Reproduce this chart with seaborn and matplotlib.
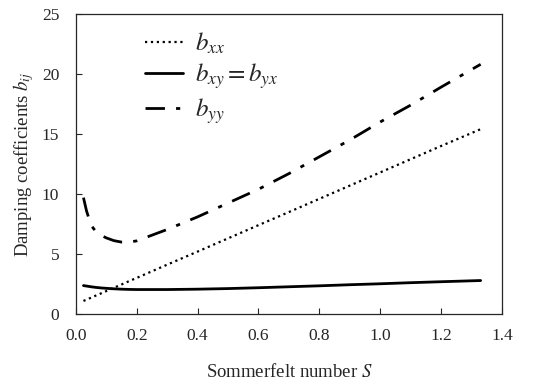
import matplotlib
matplotlib.use("Agg")
import matplotlib.pyplot as plt
import numpy as np
import pandas as pd
import seaborn as sns

# values
S = [0.025, 0.035, 0.05, 0.065, 0.08, 0.1, 0.125, 0.15, 0.175, 0.2, 0.3, 0.4, 0.5, 0.6,
     0.7, 0.8, 0.9, 1.0, 1.1, 1.2, 1.33]
b_xx = [1.1, 1.21, 1.37, 1.54, 1.7, 1.92, 2.2, 2.47, 2.75, 3.02, 4.12, 5.21, 6.31, 7.41,
        8.5, 9.6, 10.7, 11.8, 12.9, 14.0, 15.4]
b_xy = [2.38, 2.34, 2.28, 2.23, 2.19, 2.15, 2.11, 2.08, 2.06, 2.05, 2.05, 2.08, 2.13, 2.2,
        2.28, 2.36, 2.45, 2.53, 2.62, 2.7, 2.8]
b_yy = [9.7, 8.6, 7.4, 6.9, 6.6, 6.35, 6.12, 6.0, 6.0, 6.1, 7.05, 8.1, 9.25, 10.4,
        11.7, 13.1, 14.5, 16.0, 17.4, 18.9, 20.8]

labels = [r"$b_{xx}$", r"$b_{xy} = b_{yx}$", r"$b_{yy}$"]
styles = [":", "-", (0, (7, 4, 1.5, 4))]
widths = [1.6, 2.0, 2.0]

df = pd.DataFrame({"S": S * 3,
                   "b": b_xx + b_xy + b_yy,
                   "coef": [labels[0]] * len(S) + [labels[1]] * len(S) + [labels[2]] * len(S)})

sns.set_style("ticks")
plt.rcParams["font.family"] = ["Liberation Serif", "DejaVu Serif"]
plt.rcParams["mathtext.fontset"] = "stix"

fig, ax = plt.subplots(figsize=(5.38, 3.85), dpi=100)
fig.subplots_adjust(left=0.141, right=0.933, top=0.964, bottom=0.184)

for lab, ls, lw in zip(labels, styles, widths):
    sub = df[df["coef"] == lab]
    sns.lineplot(data=sub, x="S", y="b", ax=ax, color="black", linestyle=ls, linewidth=lw, label=lab)

ax.set_xlim(0, 1.4)
ax.set_ylim(0, 25)
ax.set_xticks(np.arange(0, 1.41, 0.2))
ax.set_xticklabels([f"{v:.1f}" for v in np.arange(0, 1.41, 0.2)])
ax.set_yticks(range(0, 26, 5))
ax.tick_params(direction="in", labelsize=12.5, length=4, width=0.8)
ax.tick_params(axis="x", pad=10)
ax.tick_params(axis="y", pad=12)
for sp in ax.spines.values():
    sp.set_linewidth(0.9)

ax.set_xlabel("Sommerfelt number $S$", fontsize=13.5, labelpad=14)
ax.set_ylabel("Damping coefficients $b_{ij}$", fontsize=13.5, labelpad=4)

leg = ax.legend(loc="upper left", bbox_to_anchor=(0.11, 1.02), frameon=False, fontsize=18,
                handlelength=1.5, labelspacing=0.22, handletextpad=0.5)

fig.savefig("out.png", dpi=100)
